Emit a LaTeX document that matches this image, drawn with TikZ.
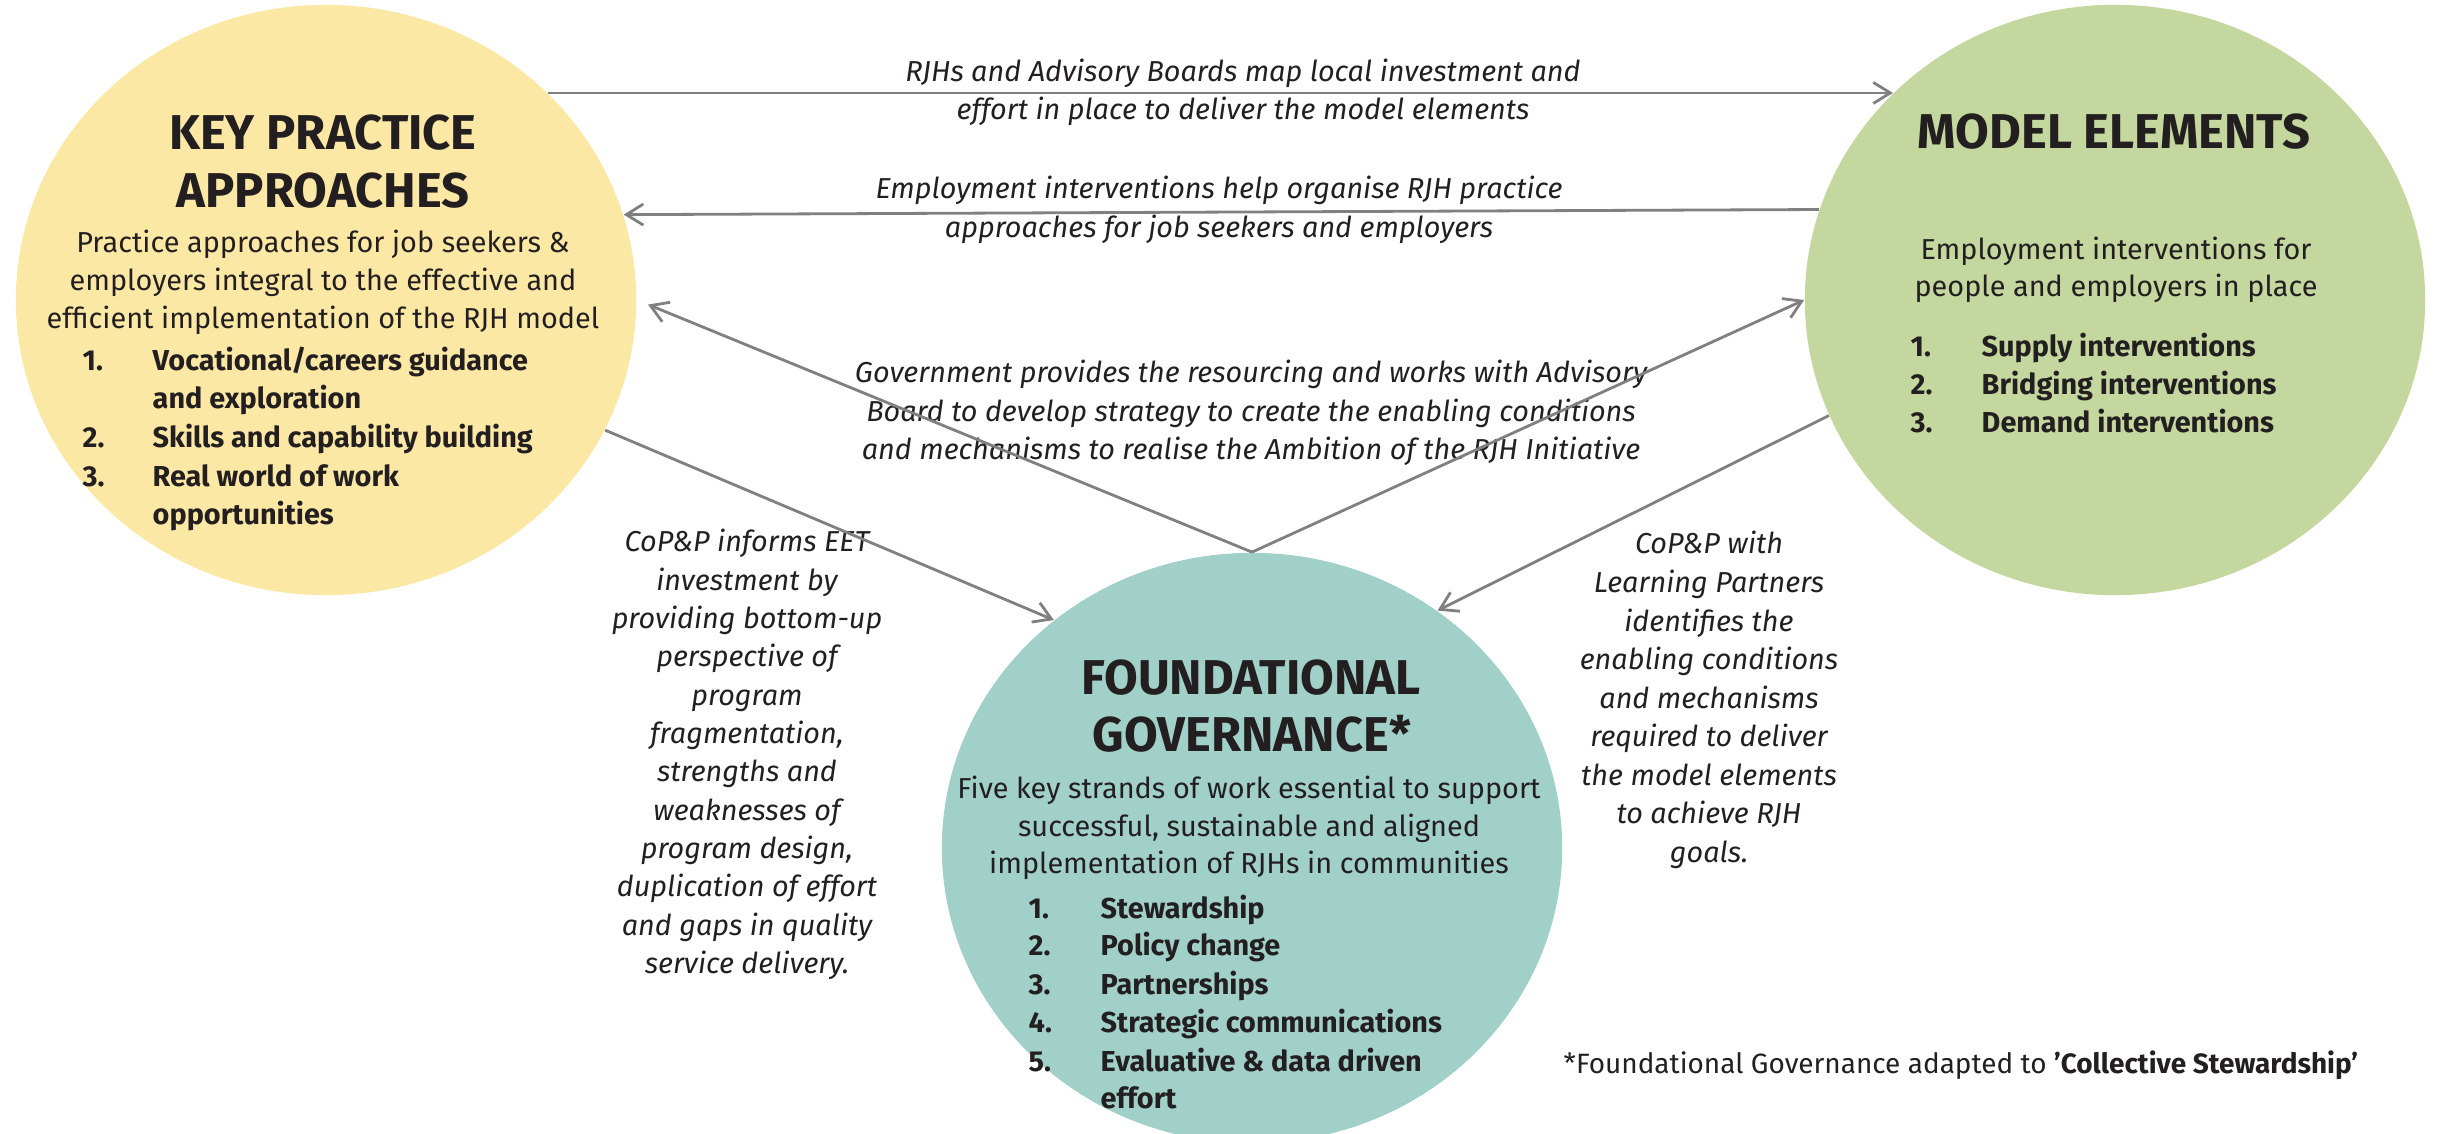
\documentclass[tikz,border=0pt]{standalone}
\usepackage{fontspec}
\setmainfont{Fira Sans}
\usetikzlibrary{shapes.geometric,arrows.meta}
\definecolor{ylw}{HTML}{FCE8A5}
\definecolor{grn}{HTML}{C4D79F}
\definecolor{tea}{HTML}{A1D0C9}
\definecolor{ink}{HTML}{231F20}
\definecolor{arrc}{HTML}{808080}
\begin{document}
\begin{tikzpicture}[x=0.01cm,y=-0.01cm,
 blob/.style={ellipse, minimum width=6.2cm, minimum height=5.9cm, inner sep=0pt, draw=none},
 ttl/.style={font=\bfseries\fontsize{13.9}{16}\selectfont, text=ink, anchor=base, inner sep=0pt},
 bdy/.style={font=\fontsize{8.2}{10}\selectfont, text=ink, anchor=base, inner sep=0pt},
 num/.style={font=\bfseries\fontsize{8.2}{10}\selectfont, text=ink, anchor=base west, inner sep=0pt},
 lbl/.style={font=\itshape\fontsize{8.2}{10}\selectfont, text=ink, anchor=base, inner sep=0pt},
 arr/.style={draw=arrc, line width=0.28mm, -{Straight Barb[length=1.7mm,width=2.1mm]}},
]
\useasboundingbox (0,0) rectangle (2440,1134);
\clip (0,0) rectangle (2440,1134);
\fill[white] (0,0) rectangle (2440,1134);

% circles
\node[blob, fill=ylw] (kpa) at (326,300) {};
\node[blob, fill=grn] (me) at (2115,300) {};
\node[blob, fill=tea] (fg) at (1252,848) {};

% titles
\node[ttl] (kpat1) at (323,150) {KEY PRACTICE};
\node[ttl] (kpat2) at (323,208) {APPROACHES};
\node[ttl] (met) at (2114,149) {MODEL ELEMENTS};
\node[ttl] (fgt1) at (1251,694) {FOUNDATIONAL};
\node[ttl] (fgt2) at (1252,751) {GOVERNANCE*};

% bodies
\node[bdy] (kpab1) at (323,253) {Practice approaches for job seekers \&};
\node[bdy] (kpab2) at (323,291) {employers integral to the effective and};
\node[bdy] (kpab3) at (323,329) {efficient implementation of the RJH model};
\node[bdy] (meb1) at (2116,260) {Employment interventions for};
\node[bdy] (meb2) at (2116,297) {people and employers in place};
\node[bdy] (fgb1) at (1249,798) {Five key strands of work essential to support};
\node[bdy] (fgb2) at (1249,836) {successful, sustainable and aligned};
\node[bdy] (fgb3) at (1249,873) {implementation of RJHs in communities};

% yellow list
\node[num] (kn1) at (82,371) {1.};
\node[num] (ki1) at (152,371) {Vocational/careers guidance};
\node[num] (ki1b) at (152,409) {and exploration};
\node[num] (kn2) at (82,448) {2.};
\node[num] (ki2) at (152,448) {Skills and capability building};
\node[num] (kn3) at (82,487) {3.};
\node[num] (ki3) at (152,487) {Real world of work};
\node[num] (ki3b) at (152,525) {opportunities};

% green list
\node[num] (mn1) at (1910,357) {1.};
\node[num] (mi1) at (1981,357) {Supply interventions};
\node[num] (mn2) at (1910,395) {2.};
\node[num] (mi2) at (1981,395) {Bridging interventions};
\node[num] (mn3) at (1910,433) {3.};
\node[num] (mi3) at (1981,433) {Demand interventions};

% teal list
\node[num] (fn1) at (1028,918) {1.};
\node[num] (fi1) at (1100,918) {Stewardship};
\node[num] (fn2) at (1028,955) {2.};
\node[num] (fi2) at (1100,955) {Policy change};
\node[num] (fn3) at (1028,994) {3.};
\node[num] (fi3) at (1100,994) {Partnerships};
\node[num] (fn4) at (1028,1032) {4.};
\node[num] (fi4) at (1100,1032) {Strategic communications};
\node[num] (fn5) at (1028,1071) {5.};
\node[num] (fi5) at (1100,1071) {Evaluative \& data driven};
\node[num] (fi5b) at (1100,1108) {effort};

% connector labels
\node[lbl] (ta1) at (1243,82) {RJHs and Advisory Boards map local investment and};
\node[lbl] (ta2) at (1243,120) {effort in place to deliver the model elements};
\node[lbl] (tb1) at (1219,199) {Employment interventions help organise RJH practice};
\node[lbl] (tb2) at (1219,238) {approaches for job seekers and employers};
\node[lbl] (tc1) at (1251,383) {Government provides the resourcing and works with Advisory};
\node[lbl] (tc2) at (1251,422) {Board to develop strategy to create the enabling conditions};
\node[lbl] (tc3) at (1251,460) {and mechanisms to realise the Ambition of the RJH Initiative};

\foreach \t [count=\i] in {CoP\&P informs EET, investment by, providing bottom-up, perspective of, program, {fragmentation,}, strengths and, weaknesses of, {program design,}, duplication of effort, and gaps in quality, service delivery.}
  \node[lbl] (lft\i) at (747,{552+38.3*(\i-1)}) {\t};

\foreach \t [count=\i] in {CoP\&P with, Learning Partners, identifies the, enabling conditions, and mechanisms, required to deliver, the model elements, to achieve RJH, goals.}
  \node[lbl] (rgt\i) at (1709,{554+38.5*(\i-1)}) {\t};

\node[bdy, anchor=base west, font=\fontsize{7.95}{10}\selectfont] (foot) at (1563,1073) {*Foundational Governance adapted to \textbf{’Collective Stewardship’}};

% connectors
\draw[arr] (kpa.43.4) -- (me.137);
\draw[arr] (me.163) -- (kpa.16);
\draw[arr, shorten >=0.12cm] (fg.north) -- (kpa.east);
\draw[arr] (fg.north) -- (me.west);
\draw[arr] (kpa.-25) -- (fg.131);
\draw[arr] (me.202) -- (fg.52);
\end{tikzpicture}
\end{document}
